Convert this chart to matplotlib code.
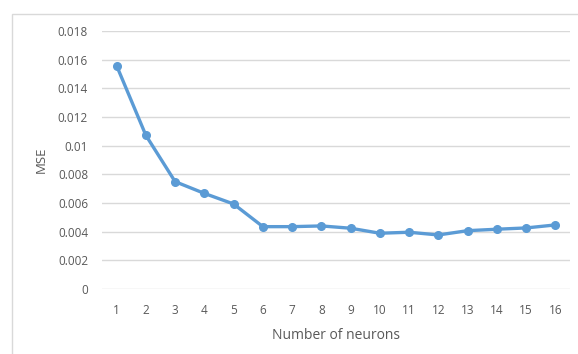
import matplotlib.pyplot as plt
from matplotlib.patches import Rectangle

neurons = list(range(1, 17))
mse = [0.01558, 0.01072, 0.00749, 0.00667, 0.00593, 0.00435, 0.00435, 0.0044,
       0.00424, 0.00389, 0.00396, 0.00377, 0.00407, 0.00417, 0.00426, 0.00447]
yticks = [0, 0.002, 0.004, 0.006, 0.008, 0.01, 0.012, 0.014, 0.016, 0.018]
ytick_labels = ['0', '0.002', '0.004', '0.006', '0.008', '0.01', '0.012', '0.014', '0.016', '0.018']

plt.rcParams['font.family'] = ['Open Sans', 'DejaVu Sans']
text_col = '#595959'

fig = plt.figure(figsize=(5.78, 3.54), dpi=100)
fig.patches.append(Rectangle((12 / 578, -0.05), 1.0, 1 - 14 / 354 + 0.05,
                             transform=fig.transFigure, fill=False,
                             edgecolor='#D9D9D9', linewidth=1))
ax = fig.add_axes([102 / 578, 1 - 289 / 354, (570 - 102) / 578, (289 - 31) / 354])

ax.plot(neurons, mse, color='#5B9BD5', linewidth=2.4, marker='o', markersize=5.5,
        zorder=3)

ax.set_xlim(0.5, 16.5)
ax.set_ylim(0, 0.018)
ax.set_yticks(yticks)
ax.set_yticklabels(ytick_labels)
ax.set_xticks(neurons)
ax.grid(axis='y', color='#D9D9D9', linewidth=1)
ax.set_axisbelow(True)
for s in ax.spines.values():
    s.set_visible(False)
ax.tick_params(length=0, labelsize=8.5, colors=text_col)
ax.tick_params(axis='x', pad=11)
ax.tick_params(axis='y', pad=10)
ax.set_xlabel('Number of neurons', fontsize=10, color=text_col, labelpad=8)
ax.set_ylabel('MSE', fontsize=9.5, color=text_col, labelpad=7)

fig.savefig('out.png', dpi=100)
